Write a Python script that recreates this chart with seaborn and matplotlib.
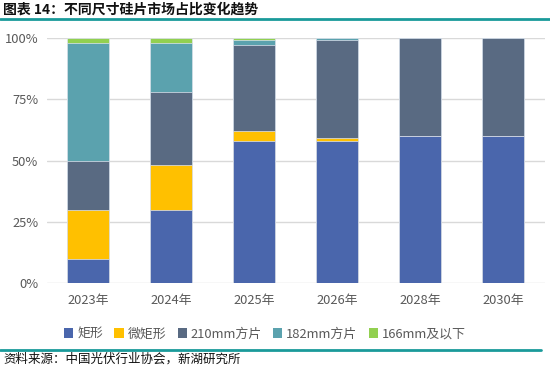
import matplotlib
matplotlib.use("Agg")
import matplotlib.pyplot as plt
import seaborn as sns
import pandas as pd
import numpy as np
from matplotlib.lines import Line2D
from matplotlib.patches import Patch

sns.set_theme(style="white")
plt.rcParams['font.family'] = ['Noto Sans CJK SC', 'DejaVu Sans']

years = ["2023年", "2024年", "2025年", "2026年", "2028年", "2030年"]
series = ["矩形", "微矩形", "210mm方片", "182mm方片", "166mm及以下"]
rect = [10, 30, 58, 58, 60, 60]
micro_rect = [20, 18, 4, 1, 0, 0]
sq210 = [20, 30, 35, 40, 40, 40]
sq182 = [48, 20, 2, 1, 0, 0]
le166 = [2, 2, 1, 0, 0, 0]
colors = ["#4A66AC", "#FFC000", "#596A82", "#5BA2AE", "#92D050"]

vals = [rect, micro_rect, sq210, sq182, le166]
cum = np.cumsum(np.array(vals, dtype=float), axis=0)

fig = plt.figure(figsize=(5.5, 3.7), dpi=100)
ax = fig.add_axes([46.5/550, 87/370, 498/550, 245/370])

for i in range(len(series) - 1, -1, -1):
    df = pd.DataFrame({"year": years, "v": cum[i] / 100.0})
    sns.barplot(data=df, x="year", y="v", color=colors[i], width=0.51,
                saturation=1, ax=ax, edgecolor="#dfe5f0", linewidth=0.5, zorder=2)

ax.set_ylim(0, 1)
ax.set_xlim(-0.5, len(years) - 0.5)
ax.set_yticks([0, 0.25, 0.5, 0.75, 1.0])
ax.set_yticklabels(["0%", "25%", "50%", "75%", "100%"])
ax.yaxis.grid(True, color="#d9d9d9", linewidth=1, zorder=0)
ax.set_axisbelow(True)
for s in ax.spines.values():
    s.set_visible(False)
ax.set_xlabel("")
ax.set_ylabel("")
ax.tick_params(axis="both", length=0, labelsize=9.3, colors="#595959")
ax.tick_params(axis="x", pad=8)
ax.tick_params(axis="y", pad=6)

handles = [Patch(facecolor=c, edgecolor="none") for c in colors]
fig.legend(handles, series, loc="center", bbox_to_anchor=(265/550, 1 - 334/370),
           ncol=5, frameon=False, fontsize=9.3, handlelength=0.7, handleheight=0.7,
           handletextpad=0.3, columnspacing=0.9, labelcolor="#595959")

fig.text(3/550, 1 - 10/370, "图表 14：不同尺寸硅片市场占比变化趋势", fontsize=10,
         fontweight="bold", va="center", ha="left", color="#111111")
fig.add_artist(Line2D([0, 1], [1 - 18.5/370, 1 - 18.5/370], color="#1A9A9A", linewidth=2))
fig.add_artist(Line2D([0, 541/550], [1 - 349.5/370, 1 - 349.5/370], color="#1A9A9A", linewidth=2))
fig.text(3/550, 1 - 359/370, "资料来源：中国光伏行业协会，新湖研究所", fontsize=9,
         va="center", ha="left", color="#111111")

fig.savefig("out.png", dpi=100)
